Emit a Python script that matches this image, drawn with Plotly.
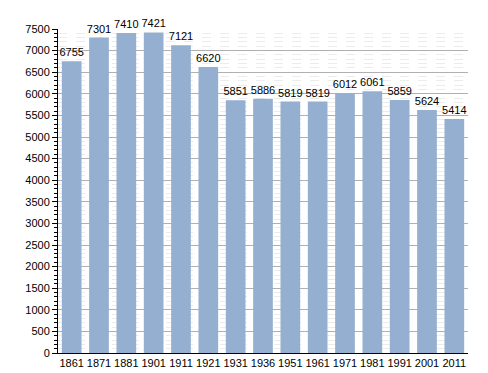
import plotly.graph_objects as go

years = ["1861", "1871", "1881", "1901", "1911", "1921", "1931", "1936", "1951", "1961", "1971", "1981", "1991", "2001", "2011"]
population = [6755, 7301, 7410, 7421, 7121, 6620, 5851, 5886, 5819, 5819, 6012, 6061, 5859, 5624, 5414]
y_ticks = list(range(0, 7501, 500))

fig = go.Figure()
fig.add_trace(go.Bar(
    x=years, y=population,
    marker=dict(color="#94afd0", line=dict(width=0)),
    text=[str(v) for v in population],
    textposition="outside",
    textfont=dict(family="Liberation Sans, Arial", size=11, color="#000"),
    cliponaxis=False,
))
fig.update_layout(
    width=488, height=373,
    margin=dict(l=50, r=28, t=21, b=20),
    paper_bgcolor="white", plot_bgcolor="white",
    bargap=0.28,
    showlegend=False,
    uniformtext=dict(minsize=11, mode="show"),
    font=dict(family="Liberation Sans, Arial", size=11, color="#000"),
)
fig.update_xaxes(
    type="category", showgrid=False, showline=True, linecolor="#000", linewidth=1,
    ticks="", tickfont=dict(size=11), ticklen=0,
)
fig.update_yaxes(
    range=[0, 7500], tickvals=y_ticks, ticktext=[str(v) for v in y_ticks],
    showgrid=True, gridcolor="#b0b0b0", gridwidth=1,
    showline=True, linecolor="#000", linewidth=1,
    ticks="outside", ticklen=5, tickcolor="#000", tickfont=dict(size=11),
    zeroline=False,
    minor=dict(dtick=100, showgrid=True, gridcolor="#ececec", griddash="dash",
               ticks="outside", ticklen=3, tickcolor="#000"),
)
fig.write_html("out.html")
